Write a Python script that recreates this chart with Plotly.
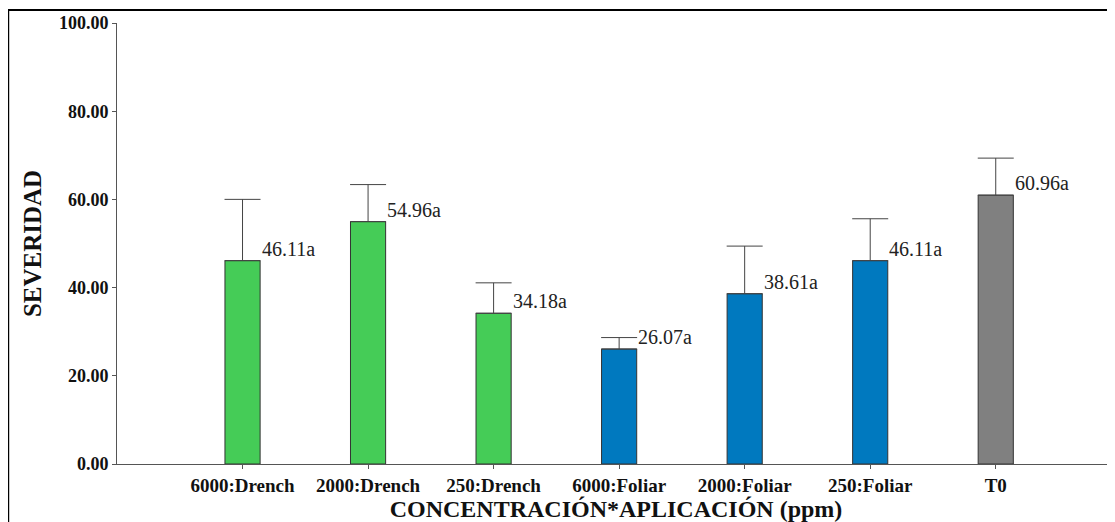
import plotly.graph_objects as go

categories = ["6000:Drench", "2000:Drench", "250:Drench", "6000:Foliar",
              "2000:Foliar", "250:Foliar", "T0"]
means = [46.11, 54.96, 34.18, 26.07, 38.61, 46.11, 60.96]
errors = [13.9, 8.4, 6.9, 2.6, 10.8, 9.5, 8.4]
letters = ["a", "a", "a", "a", "a", "a", "a"]
bar_colors = ["#45CC57", "#45CC57", "#45CC57", "#0079BF", "#0079BF", "#0079BF", "#808080"]
y_ticks = [0, 20, 40, 60, 80, 100]

SERIF = "Liberation Serif"

fig = go.Figure(go.Bar(
    x=categories,
    y=means,
    width=0.28,
    marker=dict(color=bar_colors, line=dict(color="#333333", width=1)),
    error_y=dict(type="data", array=errors, arrayminus=[0] * len(errors),
                 symmetric=False, color="#444444", thickness=1, width=18),
))

for cat, val, lab in zip(categories, means, letters):
    fig.add_annotation(
        x=cat, y=val, text=f"{val:.2f}{lab}", showarrow=False,
        xanchor="left", yanchor="middle", xshift=17, yshift=12,
        font=dict(family=SERIF, size=20, color="#222222"),
    )

# outer frame
fig.add_shape(type="rect", xref="paper", yref="paper",
              x0=-0.109, x1=0.997, y0=-0.3, y1=1.0295,
              line=dict(color="black", width=2))

fig.update_layout(
    width=1107, height=514,
    paper_bgcolor="white", plot_bgcolor="white",
    margin=dict(l=109, r=0, t=15, b=58),
    showlegend=False,
    xaxis=dict(
        range=[-1, 6.95], showgrid=False, showline=True, linecolor="#555555",
        linewidth=1, ticks="outside", ticklen=4, tickcolor="#555555",
        tickfont=dict(family=SERIF, size=19, color="#111111", weight="bold"),
        title=dict(text="CONCENTRACIÓN*APLICACIÓN (ppm)", standoff=2,
                   font=dict(family=SERIF, size=24, color="#111111", weight="bold")),
    ),
    yaxis=dict(
        range=[0, 100], tickvals=y_ticks, tickformat=".2f", showgrid=False,
        zeroline=False, showline=True, linecolor="#555555", linewidth=1,
        ticks="outside", ticklen=4, tickcolor="#555555",
        tickfont=dict(family=SERIF, size=18, color="#111111", weight="bold"),
        title=dict(text="SEVERIDAD", standoff=10,
                   font=dict(family=SERIF, size=25, color="#111111", weight="bold")),
    ),
)

fig.write_html("out.html")
